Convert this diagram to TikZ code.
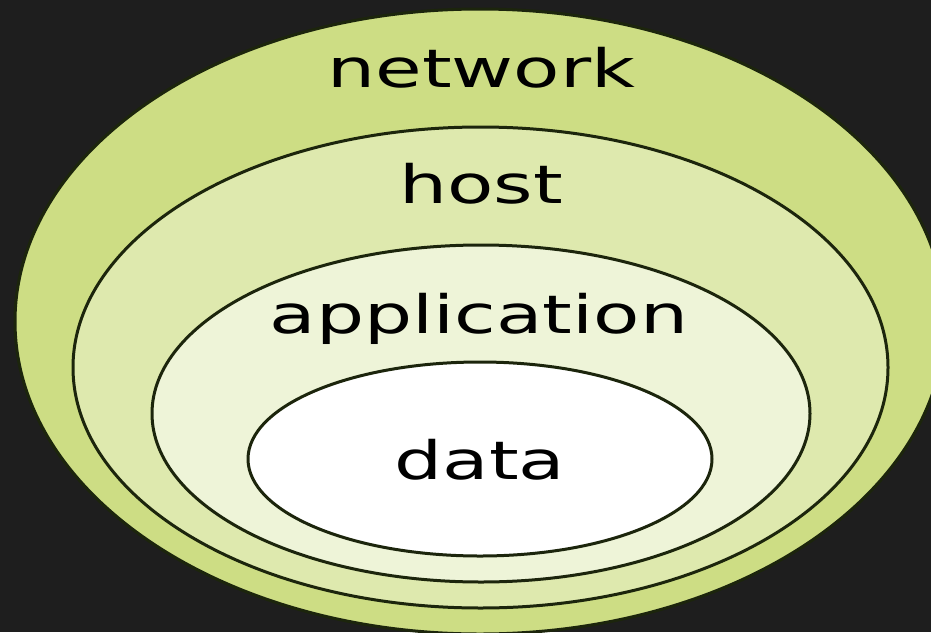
\documentclass[tikz,border=0pt]{standalone}
\usepackage{fontspec}
\setmainfont{DejaVu Sans}
\usepackage{graphicx}
\definecolor{board}{HTML}{1E1E1E}
\definecolor{ringA}{HTML}{CDDD84}
\definecolor{ringB}{HTML}{DEE9AE}
\definecolor{ringC}{HTML}{EEF4D8}
\definecolor{edgeol}{HTML}{1C250C}
\tikzset{
  ring/.style={draw=edgeol, line width=3pt},
  lbl/.style={anchor=base, inner sep=0pt, text=black,
    font=\fontsize{53}{60}\selectfont},
}
\newcommand{\wide}[1]{\scalebox{1.43}[1]{#1}}
\begin{document}
\begin{tikzpicture}[x=1pt, y=-1pt]
  \useasboundingbox (0,0) rectangle (931,632);
  \fill[board] (0,0) rectangle (931,632);
  \clip (0,0) rectangle (931,632);
  \draw[ring, fill=ringA] (480,321.5) ellipse [x radius=465pt, y radius=312.5pt];
  \draw[ring, fill=ringB] (480.5,367.5) ellipse [x radius=407.5pt, y radius=240.5pt];
  \draw[ring, fill=ringC] (481,413.5) ellipse [x radius=329pt, y radius=168.5pt];
  \draw[ring, fill=white] (480,459) ellipse [x radius=232pt, y radius=97pt];
  \node[lbl] (net) at (481.5,87) {\wide{network}};
  \node[lbl] (host) at (481,203) {\wide{host}};
  \node[lbl] (app) at (479,333) {\wide{application}};
  \node[lbl] (data) at (480,479) {\wide{data}};
\end{tikzpicture}
\end{document}
